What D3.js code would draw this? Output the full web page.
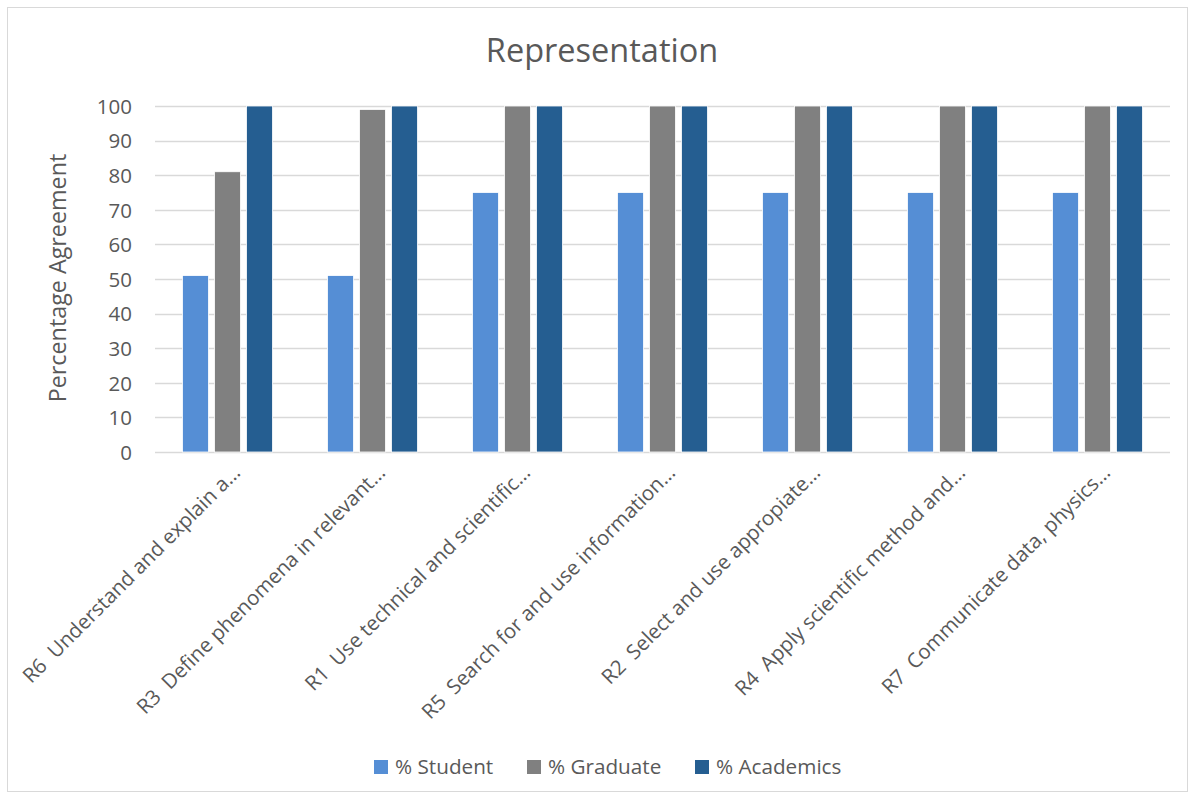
<!DOCTYPE html>
<html>
<head>
<meta charset="utf-8">
<script src="https://cdn.jsdelivr.net/npm/d3@7/dist/d3.min.js"></script>
<style>
  html, body { margin: 0; padding: 0; background: #fff; }
  svg text { font-family: "Open Sans", "Noto Sans", sans-serif; fill: #595959; white-space: pre; }
</style>
</head>
<body>
<svg id="chart" width="1195" height="799"></svg>
<script>
// Categories (truncated as shown on the axis)
const categories = [
  "R6  Understand and explain a\u2026",
  "R3  Define phenomena in relevant\u2026",
  "R1  Use technical and scientific\u2026",
  "R5  Search for and use information\u2026",
  "R2  Select and use appropiate\u2026",
  "R4  Apply scientific method and\u2026",
  "R7  Communicate data, physics\u2026"
];
const seriesNames = ["% Student", "% Graduate", "% Academics"];
const studentValues   = [51, 51, 75, 75, 75, 75, 75];
const graduateValues  = [81, 99, 100, 100, 100, 100, 100];
const academicsValues = [100, 100, 100, 100, 100, 100, 100];
const yTicks = [0, 10, 20, 30, 40, 50, 60, 70, 80, 90, 100];

const seriesValues = [studentValues, graduateValues, academicsValues];
const colors = ["#558ED5", "#808080", "#255E91"];

const svg = d3.select("#chart");

// outer chart frame
svg.append("rect")
  .attr("x", 7.5).attr("y", 7.5)
  .attr("width", 1180).attr("height", 784)
  .attr("fill", "#fff").attr("stroke", "#D9D9D9").attr("stroke-width", 1);

const plot = { left: 155, right: 1170, top: 106, bottom: 452 };

const x0 = d3.scaleBand().domain(categories).range([plot.left, plot.right]).padding(0);
const groupWidth = 90;
const x1 = d3.scaleBand().domain(seriesNames).range([0, groupWidth]).paddingInner(6 / 32);
const y = d3.scaleLinear().domain([0, 100]).range([plot.bottom, plot.top]);

// horizontal gridlines
svg.append("g")
  .selectAll("line")
  .data(yTicks)
  .join("line")
  .attr("x1", plot.left).attr("x2", plot.right)
  .attr("y1", d => Math.round(y(d)) + 0.5).attr("y2", d => Math.round(y(d)) + 0.5)
  .attr("stroke", "#D9D9D9").attr("stroke-width", 1.5);

// y axis tick labels
const yAxis = d3.axisLeft(y).tickValues(yTicks).tickSize(0).tickPadding(0);
const yg = svg.append("g").attr("transform", `translate(132,0)`).call(yAxis);
yg.select(".domain").remove();
yg.selectAll("text")
  .attr("font-size", 20.5)
  .attr("fill", "#595959")
  .attr("font-family", "'Open Sans', sans-serif")
  .attr("dy", "0.36em");

// bars
const rows = categories.map((c, i) => ({ cat: c, vals: seriesValues.map((s, j) => ({ name: seriesNames[j], v: s[i], color: colors[j] })) }));
const groups = svg.append("g")
  .selectAll("g")
  .data(rows)
  .join("g")
  .attr("transform", d => `translate(${x0(d.cat) + (x0.bandwidth() - groupWidth) / 2},0)`);
groups.selectAll("rect")
  .data(d => d.vals)
  .join("rect")
  .attr("x", d => x1(d.name))
  .attr("width", x1.bandwidth())
  .attr("y", d => y(d.v))
  .attr("height", d => y(0) - y(d.v))
  .attr("fill", d => d.color)
  .attr("stroke", "#ffffff").attr("stroke-width", 0.8);

// category labels, rotated
svg.append("g")
  .selectAll("text")
  .data(categories)
  .join("text")
  .attr("transform", d => `translate(${x0(d) + x0.bandwidth() / 2 + 14},474) rotate(-45)`)
  .attr("text-anchor", "end")
  .attr("font-size", 20.5)
  .text(d => d);

// chart title
svg.append("text")
  .attr("x", 602).attr("y", 62)
  .attr("text-anchor", "middle")
  .attr("font-size", 32.5)
  .text("Representation");

// y axis title
svg.append("text")
  .attr("transform", `translate(66,278) rotate(-90)`)
  .attr("text-anchor", "middle")
  .attr("font-size", 23.3)
  .text("Percentage Agreement");

// legend
const legendItems = [
  { name: seriesNames[0], color: colors[0], x: 374 },
  { name: seriesNames[1], color: colors[1], x: 527 },
  { name: seriesNames[2], color: colors[2], x: 695 }
];
const lg = svg.append("g").selectAll("g").data(legendItems).join("g")
  .attr("transform", d => `translate(${d.x},760)`);
lg.append("rect").attr("width", 14).attr("height", 14).attr("fill", d => d.color);
lg.append("text").attr("x", 21).attr("y", 14).attr("font-size", 20.7).text(d => d.name);
</script>
</body>
</html>
